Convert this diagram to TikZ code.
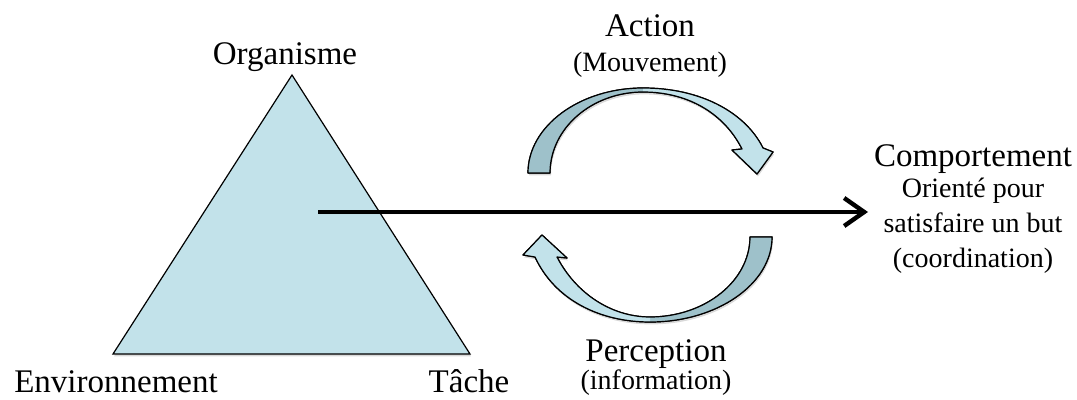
\documentclass[tikz,border=0pt]{standalone}
\usepackage{fontspec}
\setmainfont{Liberation Serif}
\usetikzlibrary{arrows.meta,shadows}
\definecolor{triblue}{RGB}{194,226,234}
\definecolor{arcblue}{RGB}{158,193,202}
\tikzset{
  big/.style={font=\fontsize{16.5}{20}\selectfont, anchor=base, inner sep=0pt},
  small/.style={font=\fontsize{14}{17}\selectfont, anchor=base, inner sep=0pt},
  shade/.style={drop shadow={opacity=0.3, shadow xshift=0.5pt, shadow yshift=-1.2pt}},
  arcline/.style={draw=black, line width=0.6pt, line join=round},
}
\begin{document}
\begin{tikzpicture}[x=0.5pt,y=-0.5pt]
  \useasboundingbox (0,0) rectangle (1077,400);
  \filldraw[fill=triblue, line width=0.6pt, shade]
    (292,75) coordinate (apex) -- (113,354) coordinate (corner-e) -- (470,354) coordinate (corner-t) -- cycle;
  \node[big] (org) at (285,65) {Organisme};
  \node[big] (env) at (116,393) {Environnement};
  \node[big] (tache) at (469,393) {Tâche};

  \draw[arcline, shade] (528,173) -- (550,173) .. controls (550,128) and (592,92) .. (643,92)
    .. controls (690,92) and (725,115) .. (742,149) -- (732,150) -- (757,174) -- (773,152) -- (763,148)
    .. controls (745,112) and (700,88) .. (643,88) .. controls (580,88) and (528,126) .. (528,173) -- cycle;
  \fill[arcblue] (528,173) -- (550,173) .. controls (550,128) and (592,92) .. (643,92)
    -- (643,88) .. controls (580,88) and (528,126) .. (528,173) -- cycle;
  \fill[triblue] (643,88) .. controls (700,88) and (745,112) .. (763,148)
    -- (773,152) -- (757,174) -- (732,150) -- (742,149) .. controls (725,115) and (690,92) .. (643,92) -- cycle;
  \draw[arcline] (528,173) -- (550,173) .. controls (550,128) and (592,92) .. (643,92)
    .. controls (690,92) and (725,115) .. (742,149) -- (732,150) -- (757,174) -- (773,152) -- (763,148)
    .. controls (745,112) and (700,88) .. (643,88) .. controls (580,88) and (528,126) .. (528,173) -- cycle;

  \draw[arcline, shade] (750,237) -- (772,237) .. controls (772,284) and (717,322) .. (650,322)
    .. controls (600,322) and (555,300) .. (535,257) -- (523,255) -- (542,235) -- (567,258) -- (557,257)
    .. controls (575,292) and (610,317) .. (650,317) .. controls (705,317) and (750,281) .. (750,237) -- cycle;
  \fill[arcblue] (750,237) -- (772,237) .. controls (772,284) and (717,322) .. (650,322)
    -- (650,317) .. controls (705,317) and (750,281) .. (750,237) -- cycle;
  \fill[triblue] (650,322) .. controls (600,322) and (555,300) .. (535,257)
    -- (523,255) -- (542,235) -- (567,258) -- (557,257) .. controls (575,292) and (610,317) .. (650,317) -- cycle;
  \draw[arcline] (750,237) -- (772,237) .. controls (772,284) and (717,322) .. (650,322)
    .. controls (600,322) and (555,300) .. (535,257) -- (523,255) -- (542,235) -- (567,258) -- (557,257)
    .. controls (575,292) and (610,317) .. (650,317) .. controls (705,317) and (750,281) .. (750,237) -- cycle;

  \node[big] (act) at (650,37) {Action};
  \node[small] (mvt) at (650,72) {(Mouvement)};
  \node[big] (perc) at (656,362) {Perception};
  \node[small] (info) at (656,390) {(information)};

  \node[big] (comp) at (973,167) {Comportement};
  \foreach \t/\y [count=\i] in {Orienté pour/198, satisfaire un but/233, {(coordination)}/268}
    \node[small] (comp\i) at (973,\y) {\t};

  \coordinate (start) at (318,212);
  \coordinate (goal) at (868,212);
  \draw[line width=2.2pt, -{Straight Barb[length=10pt,width=14pt]}, shade] (start) -- (goal);
\end{tikzpicture}
\end{document}
